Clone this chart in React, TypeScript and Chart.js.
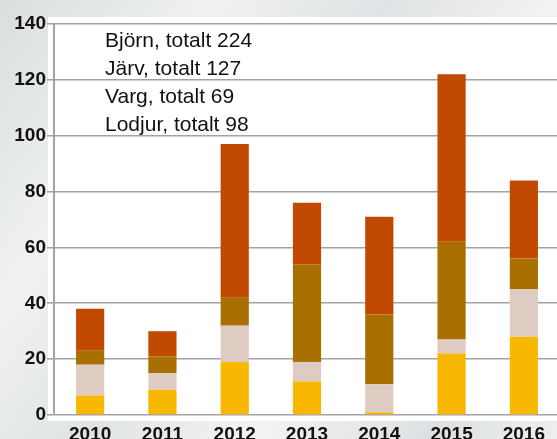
import React, { useEffect, useRef } from "react";
import { Chart, registerables } from "chart.js";

Chart.register(...registerables);

const years = ["2010", "2011", "2012", "2013", "2014", "2015", "2016"];
const lodjur = [7, 9, 19, 12, 1, 22, 28];
const varg = [11, 6, 13, 7, 10, 5, 17];
const jarv = [5, 6, 10, 35, 25, 35, 11];
const bjorn = [15, 9, 55, 22, 35, 60, 28];
const legendLines = ["Björn, totalt 224", "Järv, totalt 127", "Varg, totalt 69", "Lodjur, totalt 98"];
const yTicks = [0, 20, 40, 60, 80, 100, 120, 140];

const FONT = "'Liberation Sans', Arial, Helvetica, sans-serif";

const plotBg = {
  id: "plotBg",
  beforeDraw(chart: any) {
    const { ctx, chartArea } = chart;
    ctx.save();
    ctx.fillStyle = "#ffffff";
    ctx.fillRect(chartArea.left - 6, chartArea.top - 7, chartArea.right - chartArea.left + 10, chartArea.bottom - chartArea.top + 13);
    ctx.restore();
  },
};

const textLegend = {
  id: "textLegend",
  afterDraw(chart: any) {
    const { ctx, chartArea } = chart;
    ctx.save();
    ctx.fillStyle = "#111111";
    ctx.font = `21px ${FONT}`;
    ctx.textBaseline = "middle";
    ctx.textAlign = "left";
    legendLines.forEach((t, i) => {
      ctx.fillText(t, chartArea.left + 51, chartArea.top + 17 + i * 28);
    });
    ctx.restore();
  },
};

export default function App() {
  const ref = useRef<HTMLCanvasElement>(null);
  useEffect(() => {
    document.body.style.margin = "0";
    const chart = new Chart(ref.current!, {
      type: "bar",
      data: {
        labels: years,
        datasets: [
          { label: "Lodjur", data: lodjur, backgroundColor: "#F8B700" },
          { label: "Varg", data: varg, backgroundColor: "#DECCC3" },
          { label: "Järv", data: jarv, backgroundColor: "#A96F00" },
          { label: "Björn", data: bjorn, backgroundColor: "#C14A00" },
        ],
      },
      options: {
        animation: false,
        responsive: false,
        maintainAspectRatio: false,
        layout: { padding: { top: 24, right: 0, bottom: 0, left: 0 } },
        plugins: { legend: { display: false }, tooltip: { enabled: false } },
        datasets: { bar: { categoryPercentage: 1, barPercentage: 0.39 } },
        scales: {
          x: {
            stacked: true,
            offset: true,
            grid: { display: false, drawOnChartArea: false },
            border: { display: false },
            ticks: { color: "#111", font: { family: FONT, size: 19, weight: "bold" }, padding: 0 },
            afterFit(scale: any) { scale.height = 24; },
          },
          y: {
            stacked: true,
            min: 0,
            max: 140,
            afterBuildTicks(scale: any) { scale.ticks = yTicks.map((v) => ({ value: v })); },
            grid: { color: "#a3a3a3", lineWidth: 1.6, tickLength: 7, tickColor: "#a3a3a3" },
            border: { display: true, color: "#a3a3a3", width: 2 },
            ticks: { color: "#111", font: { family: FONT, size: 19, weight: "bold" }, padding: 1 },
            afterFit(scale: any) { scale.width = 54; },
          },
        },
      },
      plugins: [plotBg, textLegend],
    });
    return () => chart.destroy();
  }, []);
  return (
    <div
      style={{
        position: "absolute",
        left: 0,
        top: 0,
        width: 557,
        height: 439,
        overflow: "hidden",
        background: "linear-gradient(125deg, #dadedf 0%, #f0f2f2 25%, #e0e3e5 45%, #f2f3f3 65%, #dde0e2 85%, #eef0f0 100%)",
      }}
    >
      <canvas ref={ref} width={560} height={439} style={{ display: "block" }} />
    </div>
  );
}
